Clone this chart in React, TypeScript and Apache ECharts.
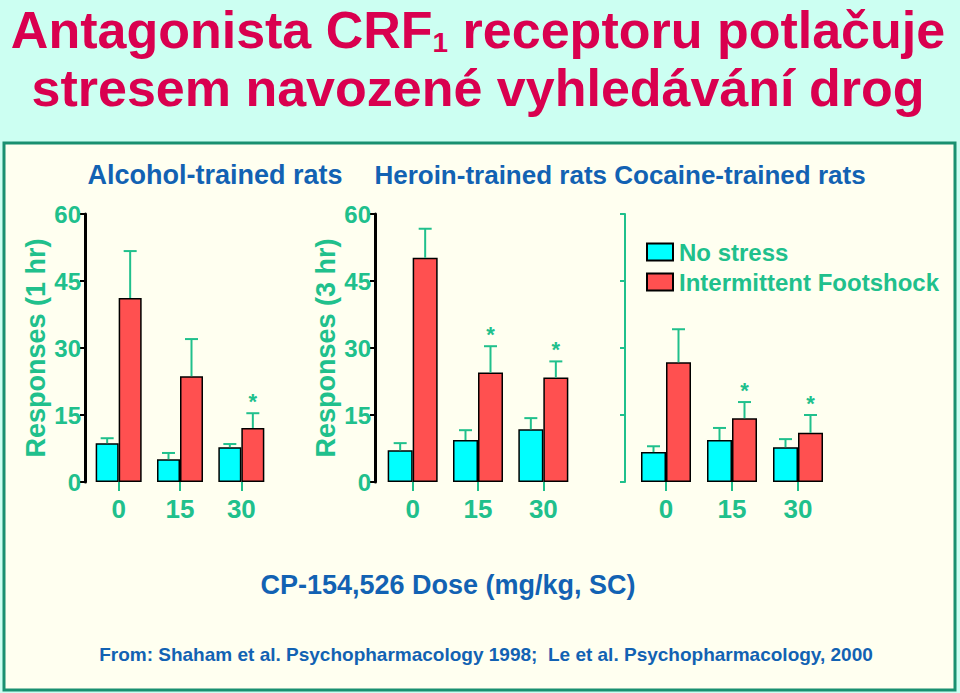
import React, { useEffect, useRef } from 'react';
import * as echarts from 'echarts';

// ---- data ----
const doses = ['0', '15', '30'];
const seriesNames = ['No stress', 'Intermittent Footshock'];

const alcoholNoStress = [8.7, 5.1, 7.8];
const alcoholNoStressErr = [1.1, 1.4, 0.7];
const alcoholShock = [41.2, 23.7, 12.1];
const alcoholShockErr = [10.5, 8.3, 3.3];
const alcoholSig = [0, 0, 1];

const heroinNoStress = [7.1, 9.4, 11.8];
const heroinNoStressErr = [1.6, 2.2, 2.5];
const heroinShock = [50.2, 24.5, 23.4];
const heroinShockErr = [6.5, 5.9, 3.6];
const heroinSig = [0, 1, 1];

const cocaineNoStress = [6.7, 9.4, 7.8];
const cocaineNoStressErr = [1.3, 2.7, 1.8];
const cocaineShock = [26.8, 14.3, 11.0];
const cocaineShockErr = [7.4, 3.6, 4.0];
const cocaineSig = [0, 1, 1];

const titleLine1 = 'Antagonista CRF{s|1} receptoru potlačuje';
const titleLine2 = 'stresem navozené vyhledávání drog';
const panelTitle1 = 'Alcohol-trained rats';
const panelTitle2 = 'Heroin-trained rats Cocaine-trained rats';
const xAxisTitle = 'CP-154,526 Dose (mg/kg, SC)';
const sourceText = 'From: Shaham et al. Psychopharmacology 1998;  Le et al. Psychopharmacology, 2000';

// ---- styles ----
const FONT = 'Liberation Sans, Arial, sans-serif';
const TEAL = '#20c08c';
const BLUE = '#1262b3';
const CRIMSON = '#d9004f';
const PAGE_BG = '#ccfff2';
const PANEL_BG = '#fffff0';
const BORDER = '#1a9070';
const CYAN = '#00ffff';
const RED = '#ff5050';

const panels = [
  { ns: alcoholNoStress, nsErr: alcoholNoStressErr, sh: alcoholShock, shErr: alcoholShockErr, sig: alcoholSig,
    left: 88, width: 184, offset: 3, barWidth: 23, yName: 'Responses (1 hr)', axisColor: '#000', axisWidth: 3, labels: true },
  { ns: heroinNoStress, nsErr: heroinNoStressErr, sh: heroinShock, shErr: heroinShockErr, sig: heroinSig,
    left: 380, width: 196, offset: 5, barWidth: 25, yName: 'Responses (3 hr)', axisColor: '#000', axisWidth: 3, labels: true },
  { ns: cocaineNoStress, nsErr: cocaineNoStressErr, sh: cocaineShock, shErr: cocaineShockErr, sig: cocaineSig,
    left: 633, width: 198, offset: 8, barWidth: 25, yName: '', axisColor: TEAL, axisWidth: 2, labels: false },
];

const GRID_TOP = 214;
const GRID_HEIGHT = 268;

function makeErrorSeries(i: number, values: number[], errs: number[], sig: number[], side: number, barWidth: number) {
  return {
    type: 'custom',
    xAxisIndex: i,
    yAxisIndex: i,
    z: 5,
    silent: true,
    clip: false,
    encode: { x: 0, y: 1 },
    data: values.map((v, k) => [k, v, errs[k], sig[k]]),
    renderItem: (params: any, api: any) => {
      const idx = api.value(0);
      const val = api.value(1);
      const err = api.value(2);
      const s = api.value(3);
      const base = api.coord([idx, val]);
      const top = api.coord([idx, val + err]);
      const x = base[0] + side * barWidth / 2;
      const children: any[] = [
        { type: 'line', shape: { x1: x, y1: base[1], x2: x, y2: top[1] }, style: { stroke: TEAL, lineWidth: 2 } },
        { type: 'line', shape: { x1: x - 6.5, y1: top[1], x2: x + 6.5, y2: top[1] }, style: { stroke: TEAL, lineWidth: 2 } },
      ];
      if (s) {
        children.push({
          type: 'text',
          x: x,
          y: top[1] - 1,
          style: { text: '*', fill: TEAL, font: `bold 22px ${FONT}`, align: 'center', verticalAlign: 'bottom' },
        });
      }
      return { type: 'group', children };
    },
  };
}

export default function App() {
  const ref = useRef<HTMLDivElement>(null);

  useEffect(() => {
    document.body.style.margin = '0';
    if (!ref.current) return;
    const chart = echarts.init(ref.current, undefined, { renderer: 'svg' });

    const grids = panels.map((p) => ({ left: p.left, width: p.width, top: GRID_TOP, height: GRID_HEIGHT }));
    const xAxes = panels.map((p, i) => ({
      type: 'category',
      gridIndex: i,
      data: doses,
      axisLine: { show: false },
      axisTick: { show: true, alignWithLabel: true, length: 9, lineStyle: { color: TEAL, width: 2 } },
      axisLabel: { color: TEAL, fontSize: 26, fontWeight: 'bold', fontFamily: FONT, margin: 14 },
      splitLine: { show: false },
    }));
    const yAxes = panels.map((p, i) => ({
      type: 'value',
      gridIndex: i,
      min: 0,
      max: 60,
      interval: 15,
      offset: p.offset,
      name: p.yName,
      nameLocation: 'middle',
      nameRotate: 90,
      nameGap: 36,
      nameTextStyle: { color: TEAL, fontSize: 27, fontWeight: 'bold', fontFamily: FONT },
      axisLine: { show: true, lineStyle: { color: p.axisColor, width: p.axisWidth } },
      axisTick: { show: true, inside: false, length: 5, lineStyle: { color: p.axisColor, width: 2 } },
      axisLabel: { show: p.labels, color: TEAL, fontSize: 24, fontWeight: 'bold', fontFamily: FONT, margin: 4 },
      splitLine: { show: false },
    }));

    const series: any[] = [];
    panels.forEach((p, i) => {
      series.push({
        name: seriesNames[0], type: 'bar', xAxisIndex: i, yAxisIndex: i, data: p.ns,
        barWidth: p.barWidth, barGap: '0%',
        itemStyle: { color: CYAN, borderColor: '#000', borderWidth: 1.5 },
      });
      series.push({
        name: seriesNames[1], type: 'bar', xAxisIndex: i, yAxisIndex: i, data: p.sh,
        barWidth: p.barWidth, barGap: '0%',
        itemStyle: { color: RED, borderColor: '#000', borderWidth: 1.5 },
      });
      series.push(makeErrorSeries(i, p.ns, p.nsErr, p.ns.map(() => 0), -1, p.barWidth));
      series.push(makeErrorSeries(i, p.sh, p.shErr, p.sig, 1, p.barWidth));
    });

    chart.setOption({
      animation: false,
      backgroundColor: PAGE_BG,
      grid: grids,
      xAxis: xAxes,
      yAxis: yAxes,
      legend: {
        data: seriesNames,
        orient: 'vertical',
        left: 641,
        top: 235,
        icon: 'rect',
        itemWidth: 26,
        itemHeight: 17,
        itemGap: 6,
        selectedMode: false,
        textStyle: { color: TEAL, fontSize: 24, fontWeight: 'bold', fontFamily: FONT, padding: [0, 0, 0, 1] },
      },
      graphic: [
        {
          type: 'rect', z: -10, silent: true,
          shape: { x: 4, y: 143, width: 951, height: 547 },
          style: { fill: PANEL_BG, stroke: BORDER, lineWidth: 3 },
        },
        {
          type: 'text', x: 478, y: 4, z: 10,
          style: {
            text: titleLine1, fill: CRIMSON, font: `bold 52px ${FONT}`, align: 'center', verticalAlign: 'top',
            rich: { s: { fill: CRIMSON, fontSize: 28, fontWeight: 'bold', fontFamily: FONT, lineHeight: 22, verticalAlign: 'bottom' } },
          },
        },
        {
          type: 'text', x: 478, y: 88, z: 10,
          style: { text: titleLine2, fill: CRIMSON, font: `bold 52px ${FONT}`, align: 'center', verticalAlign: 'middle' },
        },
        {
          type: 'text', x: 215, y: 175, z: 10,
          style: { text: panelTitle1, fill: BLUE, font: `bold 27px ${FONT}`, align: 'center', verticalAlign: 'middle' },
        },
        {
          type: 'text', x: 620, y: 175, z: 10,
          style: { text: panelTitle2, fill: BLUE, font: `bold 26px ${FONT}`, align: 'center', verticalAlign: 'middle' },
        },
        {
          type: 'text', x: 448, y: 585, z: 10,
          style: { text: xAxisTitle, fill: BLUE, font: `bold 27px ${FONT}`, align: 'center', verticalAlign: 'middle' },
        },
        {
          type: 'text', x: 486, y: 654, z: 10,
          style: { text: sourceText, fill: BLUE, font: `bold 19px ${FONT}`, align: 'center', verticalAlign: 'middle' },
        },
      ],
      series,
    });

    return () => chart.dispose();
  }, []);

  return <div ref={ref} style={{ width: 960, height: 693 }} />;
}
